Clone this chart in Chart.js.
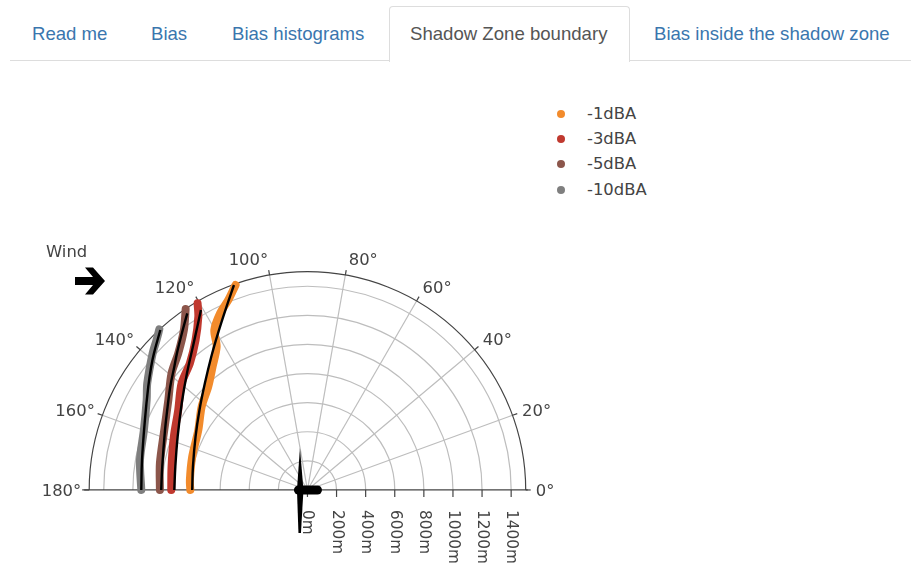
<!DOCTYPE html>
<html>
<head>
<meta charset="utf-8">
<title>Shadow Zone boundary</title>
<script src="https://cdn.jsdelivr.net/npm/chart.js@4"></script>
<style>
  html, body { margin: 0; padding: 0; background: #fff; }
  body { width: 911px; height: 564px; position: relative; overflow: hidden; }
  .tabline { position: absolute; left: 10px; right: 0; top: 60px; border-top: 1px solid #ddd; }
  .tab { position: absolute; top: 24px; font: 18.6px "Liberation Sans", sans-serif; color: #3a76ae; white-space: nowrap; line-height: 20px; }
  .tabbox { position: absolute; left: 389px; top: 6px; width: 239px; height: 55px; background: #fff; border: 1px solid #ddd; border-bottom: 0; border-radius: 4px 4px 0 0; }
  .tab.active { color: #555; }
  canvas { position: absolute; left: 0; top: 62px; }
  .leg { position: absolute; font: 16.4px "DejaVu Sans", sans-serif; color: #444; line-height: 20px; left: 587px; }
  .dot { position: absolute; left: -30px; top: 6px; width: 8px; height: 8px; border-radius: 50%; }
</style>
</head>
<body>
<div class="tabline"></div>
<div class="tabbox"></div>
<div class="tab" style="left:32px">Read me</div>
<div class="tab" style="left:151px">Bias</div>
<div class="tab" style="left:232px">Bias histograms</div>
<div class="tab active" style="left:410px">Shadow Zone boundary</div>
<div class="tab" style="left:654px">Bias inside the shadow zone</div>
<div id="legend"></div>
<canvas id="sombra" width="911" height="502"></canvas>

<script>
// limites de zona de sombra, en metros desde la turbina
const levels = ["-1dBA", "-3dBA", "-5dBA", "-10dBA"];
const colors = ["#f28b2c", "#c0392f", "#8c564b", "#7f7f7f"];

// medidas (trazo de color)
const measuredX1 = [-805, -808, -792, -750, -727, -682, -652, -624, -640, -601, -544, -494];
const measuredY1 = [0, 69, 229, 412, 573, 710, 848, 985, 1100, 1214, 1306, 1409];
const measuredX3 = [-936, -934, -918, -888, -865, -808, -769, -750, -755];
const measuredY3 = [0, 160, 367, 550, 733, 871, 1031, 1191, 1283];
const measuredX5 = [-1014, -1014, -984, -956, -934, -888, -849, -837];
const measuredY5 = [0, 183, 412, 619, 802, 939, 1100, 1244];
const measuredX10 = [-1142, -1151, -1124, -1105, -1101, -1064, -1037, -1018];
const measuredY10 = [0, 206, 412, 619, 733, 939, 1031, 1104];

// ajuste (trazo negro)
const fitX1 = [-792, -787, -769, -742, -705, -661, -615, -560, -505];
const fitY1 = [0, 160, 367, 550, 733, 916, 1077, 1249, 1409];
const fitX3 = [-915, -908, -892, -864, -828, -782, -732];
const fitY3 = [0, 160, 367, 596, 802, 1008, 1237];
const fitX5 = [-1005, -998, -979, -961, -943, -915, -897, -863, -826];
const fitY5 = [0, 160, 412, 573, 710, 847, 939, 1077, 1214];
const fitX10 = [-1142, -1137, -1117, -1094, -1074, -1055, -1011];
const fitY10 = [0, 206, 481, 710, 847, 939, 1100];

const radialTicks = [0, 200, 400, 600, 800, 1000, 1200, 1400];
const angleTicks = [0, 20, 40, 60, 80, 100, 120, 140, 160, 180];
const outerRadius = 1500;

const toPoints = (xs, ys) => xs.map((x, i) => ({ x: x, y: ys[i] }));

const measured = [
  toPoints(measuredX1, measuredY1),
  toPoints(measuredX3, measuredY3),
  toPoints(measuredX5, measuredY5),
  toPoints(measuredX10, measuredY10),
];
const fits = [
  toPoints(fitX1, fitY1),
  toPoints(fitX3, fitY3),
  toPoints(fitX5, fitY5),
  toPoints(fitX10, fitY10),
];

// leyenda
const legendTops = [104, 129, 154, 180];
document.getElementById("legend").innerHTML = levels.map((name, i) =>
  `<div class="leg" style="top:${legendTops[i]}px"><span class="dot" style="background:${colors[i]}"></span>${name}</div>`
).join("");

const textColor = "#444";
const textFont = '16.4px "DejaVu Sans", sans-serif';
const radialFont = '15.3px "DejaVu Sans", sans-serif';

const polarGrid = {
  id: "polarGrid",
  beforeDatasetsDraw(chart) {
    const { ctx, scales: { x, y } } = chart;
    const cx = x.getPixelForValue(0);
    const cy = y.getPixelForValue(0);
    const pxPerM = x.getPixelForValue(1) - cx;
    const outer = outerRadius * pxPerM;

    ctx.save();
    ctx.lineWidth = 1.2;
    ctx.strokeStyle = "#bdbdbd";
    radialTicks.slice(1).forEach((r) => {
      ctx.beginPath();
      ctx.arc(cx, cy, r * pxPerM, Math.PI, 0);
      ctx.stroke();
    });
    angleTicks.slice(1, -1).forEach((a) => {
      const t = (a * Math.PI) / 180;
      ctx.beginPath();
      ctx.moveTo(cx, cy);
      ctx.lineTo(cx + outer * Math.cos(t), cy - outer * Math.sin(t));
      ctx.stroke();
    });

    // borde exterior y eje
    ctx.lineWidth = 1.2;
    ctx.strokeStyle = textColor;
    ctx.beginPath();
    ctx.arc(cx, cy, outer, Math.PI, 0);
    ctx.stroke();
    ctx.beginPath();
    ctx.moveTo(cx - outer - 7, cy);
    ctx.lineTo(cx + outer + 2, cy);
    ctx.stroke();

    // marcas y etiquetas de angulo
    ctx.font = textFont;
    ctx.fillStyle = textColor;
    angleTicks.forEach((a) => {
      const t = (a * Math.PI) / 180;
      const c = Math.cos(t);
      const s = Math.sin(t);
      ctx.beginPath();
      ctx.moveTo(cx + outer * c, cy - outer * s);
      ctx.lineTo(cx + (outer + 5) * c, cy - (outer + 5) * s);
      ctx.stroke();
      ctx.textAlign = c < 0 ? "right" : "left";
      ctx.textBaseline = "middle";
      const offs = outer + 8;
      ctx.fillText(a + "°", cx + offs * c + (c < 0 ? 0 : 2), cy - offs * s - 8 * s + 1.5);
    });

    // marcas y etiquetas de distancia
    ctx.font = radialFont;
    radialTicks.forEach((r) => {
      const px = cx + r * pxPerM;
      ctx.beginPath();
      ctx.moveTo(px, cy);
      ctx.lineTo(px, cy + 7);
      ctx.stroke();
      ctx.save();
      ctx.translate(px, cy + 20);
      ctx.rotate(Math.PI / 2);
      ctx.textAlign = "left";
      ctx.textBaseline = "middle";
      ctx.fillText(r + "m", 0, 0);
      ctx.restore();
    });
    ctx.restore();
  },
  afterDatasetsDraw(chart) {
    const { ctx, scales: { x, y } } = chart;
    const cx = x.getPixelForValue(0);
    const cy = y.getPixelForValue(0);

    ctx.save();
    ctx.fillStyle = "#000";
    ctx.strokeStyle = "#000";
    // turbina
    ctx.beginPath();
    ctx.moveTo(cx - 7.5, cy - 42);
    ctx.lineTo(cx - 4, cy);
    ctx.lineTo(cx - 6.5, cy + 43);
    ctx.lineTo(cx - 9, cy + 43);
    ctx.lineTo(cx - 10.5, cy);
    ctx.closePath();
    ctx.fill();
    ctx.lineWidth = 9;
    ctx.lineCap = "round";
    ctx.beginPath();
    ctx.moveTo(cx - 9, cy);
    ctx.lineTo(cx + 10, cy);
    ctx.stroke();

    // viento
    ctx.font = textFont;
    ctx.fillStyle = textColor;
    ctx.textAlign = "left";
    ctx.textBaseline = "middle";
    ctx.fillText("Wind", 46, 191);
    const ax = 75;
    const ay = 219;
    ctx.fillStyle = "#000";
    ctx.beginPath();
    ctx.moveTo(ax, ay - 4);
    ctx.lineTo(ax + 18, ay - 4);
    ctx.lineTo(ax + 10, ay - 13.5);
    ctx.lineTo(ax + 18, ay - 13.5);
    ctx.lineTo(ax + 30, ay);
    ctx.lineTo(ax + 18, ay + 13.5);
    ctx.lineTo(ax + 10, ay + 13.5);
    ctx.lineTo(ax + 18, ay + 4);
    ctx.lineTo(ax, ay + 4);
    ctx.closePath();
    ctx.fill();
    ctx.restore();
  },
};

const datasets = [];
levels.forEach((name, i) => {
  datasets.push({
    label: name,
    data: measured[i],
    borderColor: colors[i],
    borderWidth: 8,
    borderCapStyle: "round",
    borderJoinStyle: "round",
    pointRadius: 0,
    showLine: true,
    tension: 0.3,
    order: 2,
    clip: false,
  });
  datasets.push({
    label: name + " fit",
    data: fits[i],
    borderColor: "#000",
    borderWidth: 2.4,
    pointRadius: 0,
    showLine: true,
    tension: 0.4,
    order: 1,
    clip: false,
  });
});

new Chart(document.getElementById("sombra"), {
  type: "scatter",
  data: { datasets: datasets },
  options: {
    responsive: false,
    animation: false,
    layout: { padding: 0 },
    plugins: {
      legend: { display: false },
      tooltip: { enabled: false },
    },
    scales: {
      x: { type: "linear", display: false, min: -2113, max: 4148 },
      y: { type: "linear", display: false, min: -509, max: 2942 },
    },
  },
  plugins: [polarGrid],
});
</script>
</body>
</html>
